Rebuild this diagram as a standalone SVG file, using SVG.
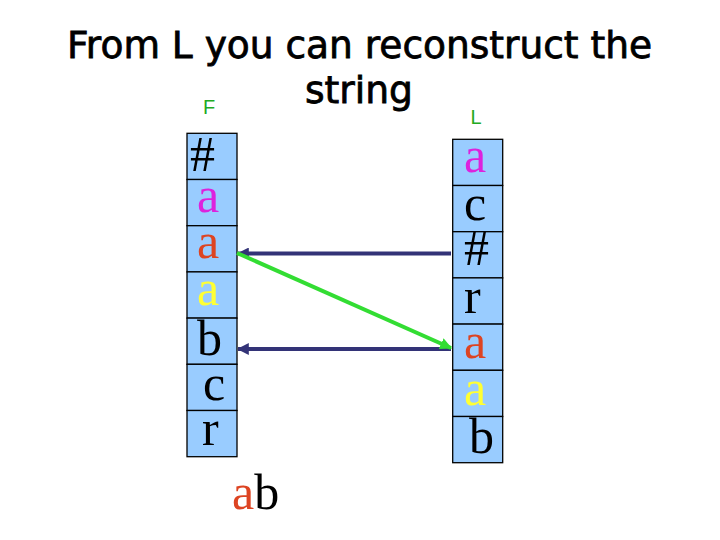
<svg xmlns="http://www.w3.org/2000/svg" width="720" height="540" viewBox="0 0 720 540">
<style>
.title{font-family:"DejaVu Sans","Liberation Sans",sans-serif;font-size:38px;fill:#000;stroke:#000;stroke-width:0.8}
.lab{font-family:"Liberation Sans",Arial,sans-serif;font-size:20px;fill:#22AA22}
.cell{fill:#99CCFF;stroke:#000;stroke-width:1.3}
.ch{font-family:"Liberation Serif","Times New Roman",serif;font-size:50px;fill:#000}
.mag{fill:#DD22DD}.red{fill:#DD4422}.yel{fill:#FFFF33}
.blue{stroke:#333377;stroke-width:4;fill:none}
.green{stroke:#33DD33;stroke-width:4;fill:none}
</style>
<defs>
<marker id="ab" viewBox="0 0 10 10" refX="9" refY="5" markerWidth="3" markerHeight="3" orient="auto"><path d="M0,0L10,5L0,10z" fill="#333377"/></marker>
<marker id="ag" viewBox="0 0 10 10" refX="9" refY="5" markerWidth="3" markerHeight="3" orient="auto"><path d="M0,0L10,5L0,10z" fill="#33DD33"/></marker>
</defs>
<g id="title">
<text class="title" x="67" y="58" textLength="585" lengthAdjust="spacingAndGlyphs">From L you can reconstruct the</text>
<text class="title" x="305" y="103" textLength="108" lengthAdjust="spacingAndGlyphs">string</text>
</g>
<g id="labelF"><text class="lab" x="209" y="114" text-anchor="middle">F</text></g>
<g id="labelL"><text class="lab" x="476" y="124" text-anchor="middle">L</text></g>
<g id="columnF">
<rect class="cell" x="187" y="133.3" width="50" height="46.2"/>
<rect class="cell" x="187" y="179.5" width="50" height="46.2"/>
<rect class="cell" x="187" y="225.7" width="50" height="46.2"/>
<rect class="cell" x="187" y="271.9" width="50" height="46.2"/>
<rect class="cell" x="187" y="318.1" width="50" height="46.2"/>
<rect class="cell" x="187" y="364.3" width="50" height="46.2"/>
<rect class="cell" x="187" y="410.5" width="50" height="46.2"/>
<text class="ch" x="190" y="171">#</text>
<text class="ch mag" x="197" y="212">a</text>
<text class="ch red" x="197" y="258">a</text>
<text class="ch yel" x="197" y="305">a</text>
<text class="ch" x="197" y="355">b</text>
<text class="ch" x="203" y="400">c</text>
<text class="ch" x="202" y="445">r</text>
</g>
<g id="columnL">
<rect class="cell" x="452.7" y="139.3" width="50" height="46.2"/>
<rect class="cell" x="452.7" y="185.5" width="50" height="46.2"/>
<rect class="cell" x="452.7" y="231.7" width="50" height="46.2"/>
<rect class="cell" x="452.7" y="277.9" width="50" height="46.2"/>
<rect class="cell" x="452.7" y="324.1" width="50" height="46.2"/>
<rect class="cell" x="452.7" y="370.3" width="50" height="46.2"/>
<rect class="cell" x="452.7" y="416.5" width="50" height="46.2"/>
<text class="ch mag" x="464" y="172">a</text>
<text class="ch" x="464" y="220">c</text>
<text class="ch" x="464" y="265">#</text>
<text class="ch" x="464" y="313">r</text>
<text class="ch red" x="464" y="358">a</text>
<text class="ch yel" x="464" y="405">a</text>
<text class="ch" x="469" y="453">b</text>
</g>
<g id="result"><text class="ch" x="232" y="509"><tspan class="red">a</tspan>b</text></g>
<g id="connectors">
<line class="blue" x1="451" y1="253.5" x2="238" y2="253.5" marker-end="url(#ab)"/>
<line class="blue" x1="451" y1="349" x2="238" y2="349" marker-end="url(#ab)"/>
<line class="green" x1="237" y1="253" x2="451" y2="348" marker-end="url(#ag)"/>
</g>
</svg>
